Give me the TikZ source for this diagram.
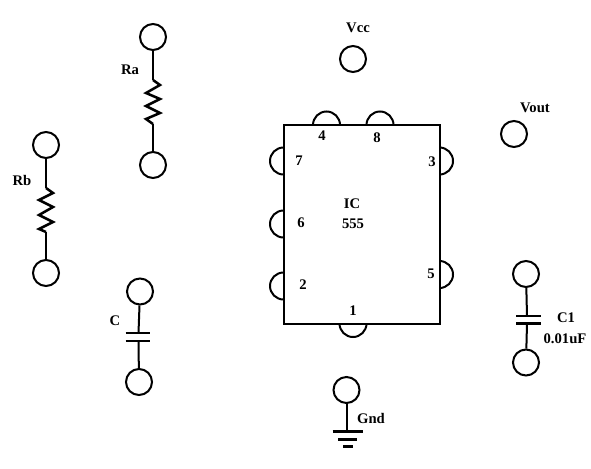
\documentclass[tikz,border=0pt]{standalone}
\usepackage{fontspec}
\setmainfont{Liberation Serif}
\tikzset{
  wire/.style={line width=1.5pt},
  plate/.style={line width=1.9pt},
  terminal/.style={circle,draw,line width=1.5pt,minimum size=19.5pt,inner sep=0pt},
  lbl/.style={font=\fontsize{11}{13}\selectfont\bfseries,inner sep=0pt}
}
\begin{document}
\begin{tikzpicture}[x=0.75pt,y=0.75pt]
        \useasboundingbox (0,0) rectangle (591,-468);

        % Terminals
        \node[terminal] (RaTop) at (153,-37) {};
        \node[terminal] (RaBot) at (153,-165) {};
        \node[terminal] (RbTop) at (46,-145) {};
        \node[terminal] (RbBot) at (46,-273) {};
        \node[terminal] (CTop) at (140,-291.5) {};
        \node[terminal] (CBot) at (139,-382) {};
        \node[terminal] (CoTop) at (526,-274) {};
        \node[terminal] (CoBot) at (526,-362.5) {};
        \node[terminal] (Gnd) at (346.5,-390) {};
        \node[terminal] (Vcc) at (353,-59) {};
        \node[terminal] (Vout) at (514,-134) {};

        % Resistors
        \draw[wire] (RaTop) -- (153,-80);
        \draw[plate] (153,-80) -- (160,-85) -- (146,-93) -- (160,-99) -- (146,-106) -- (160,-113) -- (146,-119) -- (153,-124);
        \draw[wire] (153,-124) -- (RaBot);
        \draw[wire] (RbTop) -- (46,-188);
        \draw[plate] (46,-188) -- (53,-193) -- (39,-200) -- (53,-207) -- (39,-215) -- (53,-222) -- (39,-229) -- (46,-232);
        \draw[wire] (46,-232) -- (RbBot);

        % Capacitors
        \coordinate (CPlateA) at (138.5,-333);
        \coordinate (CPlateB) at (138.5,-341);
        \coordinate (CoPlateA) at (527,-316);
        \coordinate (CoPlateB) at (527,-323.5);
        \draw[wire] (CTop) -- (CPlateA);
        \draw[wire] (CPlateB) -- (CBot);
        \draw[wire] (CoTop) -- (CoPlateA);
        \draw[wire] (CoPlateB) -- (CoBot);
        \draw[plate] (125.5,-333) -- (149.5,-333);
        \draw[plate] (125.5,-341) -- (149.5,-341);
        \draw[plate] (516,-316) -- (540.5,-316);
        \draw[plate] (516,-323.5) -- (540.5,-323.5);

        % Ground
        \coordinate (GndBar) at (346.5,-431.5);
        \draw[wire] (Gnd) -- (GndBar);
        \draw[plate] (332.5,-431.5) -- (362.5,-431.5);
        \draw[plate] (338,-439.5) -- (357,-439.5);
        \draw[plate] (343,-446.5) -- (353,-446.5);

        % Chip
        \draw[wire] (283.5,-125) rectangle (439.5,-323.5);
        \foreach \x in {326.5,380}
          \draw[wire] (\x-13.5,-125) arc (180:0:13.5);
        \foreach \y in {161,224,286}
          \draw[wire] (283.5,-\y+13.5) arc (90:270:13.5);
        \foreach \y in {161,274.5}
          \draw[wire] (439.5,-\y+13.5) arc (90:-90:13.5);
        \draw[wire] (339.5,-323.5) arc (180:360:13.5);

        % Pin numbers
        \node[lbl] (PinFour) at (322,-136) {4};
        \node[lbl] (PinEight) at (377,-138) {8};
        \node[lbl] (PinSeven) at (299,-161) {7};
        \node[lbl] (PinSix) at (301,-223) {6};
        \node[lbl] (PinTwo) at (303,-285) {2};
        \node[lbl] (PinThree) at (432,-162) {3};
        \node[lbl] (PinFive) at (431,-274) {5};
        \node[lbl] (PinOne) at (353,-311) {1};

        % Labels
        \node[lbl] (IcName) at (352,-204) {IC};
        \node[lbl] (IcType) at (353,-224) {555};
        \node[lbl] (VccLabel) at (358,-28) {Vcc};
        \node[lbl] (VoutLabel) at (535,-108) {Vout};
        \node[lbl] (RaLabel) at (130,-70) {Ra};
        \node[lbl] (RbLabel) at (22,-180) {Rb};
        \node[lbl] (CLabel) at (115,-321) {C};
        \node[lbl] (CoLabel) at (566,-318) {C1};
        \node[lbl] (CoValue) at (565,-339) {0.01uF};
        \node[lbl] (GndLabel) at (371,-418) {Gnd};
\end{tikzpicture}
\end{document}
